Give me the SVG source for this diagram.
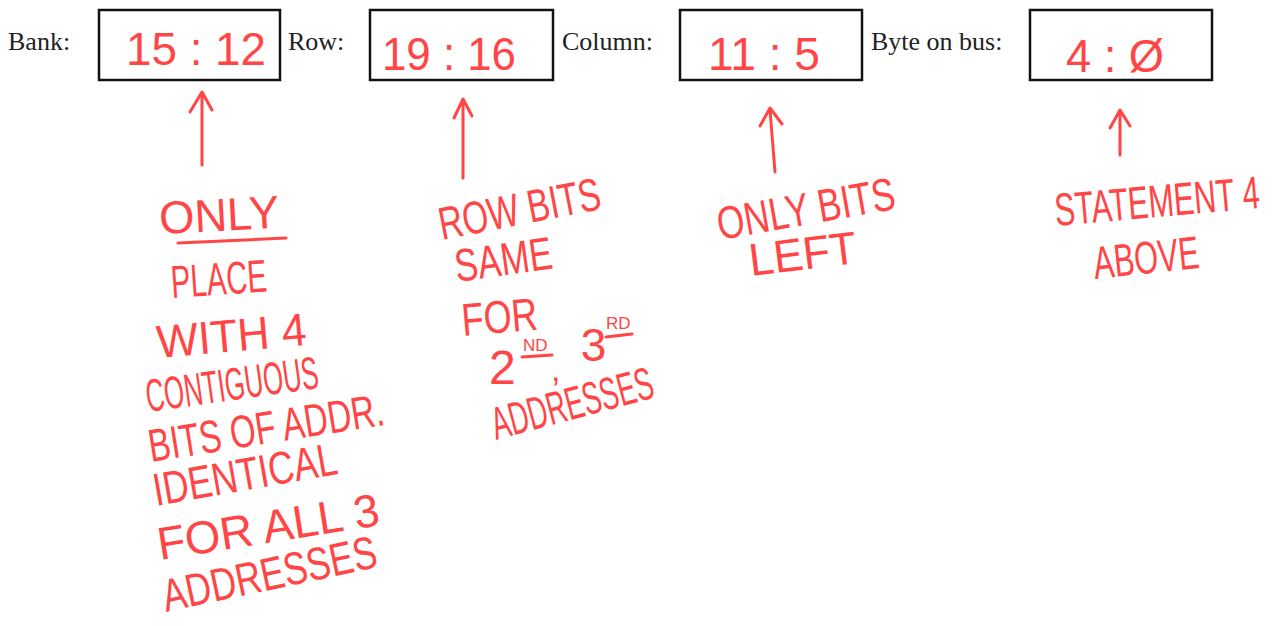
<svg xmlns="http://www.w3.org/2000/svg" width="1274" height="626" viewBox="0 0 1274 626">
<defs>
<style>
.lbl{font-family:"Liberation Serif","Times New Roman",serif;font-size:26px;fill:#222}
.box{fill:#fff;stroke:#111;stroke-width:2.5}
.hw{font-family:"Liberation Sans",Arial,sans-serif;fill:#ff4545;font-size:46px}
.pen{fill:none;stroke:#ff4545;stroke-width:3;stroke-linecap:round;stroke-linejoin:round}
</style>
</defs>
<rect width="1274" height="626" fill="#fff"/>
<g id="bank">
<text class="lbl" x="8" y="50">Bank:</text>
<rect class="box" x="99" y="10" width="181" height="70"/>
<text class="hw" x="126" y="65" font-size="52" textLength="140" lengthAdjust="spacingAndGlyphs">15 : 12</text>
</g>
<g id="row">
<text class="lbl" x="288" y="50">Row:</text>
<rect class="box" x="370" y="10" width="183" height="70"/>
<text class="hw" x="382" y="70" font-size="56" textLength="134" lengthAdjust="spacingAndGlyphs">19 : 16</text>
</g>
<g id="column">
<text class="lbl" x="562" y="50">Column:</text>
<rect class="box" x="680" y="10" width="182" height="70"/>
<text class="hw" x="708" y="70" font-size="54" textLength="112" lengthAdjust="spacingAndGlyphs">11 : 5</text>
</g>
<g id="byte">
<text class="lbl" x="871" y="50">Byte on bus:</text>
<rect class="box" x="1030" y="10" width="182" height="70"/>
<text class="hw" x="1066" y="72" font-size="56" textLength="98" lengthAdjust="spacingAndGlyphs">4 : Ø</text>
</g>
<g id="connectors">
<path class="pen" d="M202 165 L202 93 M190 112 L202 92 L212 110"/>
<path class="pen" d="M463 178 L463 100 M454 118 L463 99 L472 116"/>
<path class="pen" d="M775 172 L770 110 M760 126 L770 108 L782 124"/>
<path class="pen" d="M1120 155 L1120 112 M1110 128 L1120 110 L1130 126"/>
</g>
<g id="note-bank">
<text class="hw" x="160" y="234" textLength="120" lengthAdjust="spacingAndGlyphs" transform="rotate(-3 160 234)">ONLY</text>
<path class="pen" d="M178 243 L286 238"/>
<text class="hw" x="172" y="298" textLength="96" lengthAdjust="spacingAndGlyphs" transform="rotate(-4 172 298)">PLACE</text>
<text class="hw" x="158" y="358" font-size="48" textLength="150" lengthAdjust="spacingAndGlyphs" transform="rotate(-5 158 358)">WITH 4</text>
<text class="hw" x="148" y="412" font-size="40" textLength="174" lengthAdjust="spacingAndGlyphs" transform="rotate(-8 148 412)">CONTIGUOUS</text>
<text class="hw" x="151" y="462" font-size="44" textLength="238" lengthAdjust="spacingAndGlyphs" transform="rotate(-9 151 462)">BITS OF ADDR.</text>
<text class="hw" x="156" y="506" font-size="44" textLength="186" lengthAdjust="spacingAndGlyphs" transform="rotate(-10 156 506)">IDENTICAL</text>
<text class="hw" x="160" y="560" font-size="48" textLength="224" lengthAdjust="spacingAndGlyphs" transform="rotate(-9 160 560)">FOR ALL 3</text>
<text class="hw" x="166" y="612" font-size="44" textLength="218" lengthAdjust="spacingAndGlyphs" transform="rotate(-12 166 612)">ADDRESSES</text>
</g>
<g id="note-row">
<text class="hw" x="442" y="240" font-size="44" textLength="164" lengthAdjust="spacingAndGlyphs" transform="rotate(-11 442 240)">ROW BITS</text>
<text class="hw" x="457" y="282" font-size="44" textLength="98" lengthAdjust="spacingAndGlyphs" transform="rotate(-8 457 282)">SAME</text>
<text class="hw" x="463" y="336" font-size="42" textLength="76" lengthAdjust="spacingAndGlyphs" transform="rotate(-5 463 336)">FOR</text>
<text class="hw"><tspan x="489" y="384" font-size="48">2</tspan><tspan x="523" y="351" font-size="17">ND</tspan><tspan x="551" y="381" font-size="34">,</tspan><tspan x="568" y="361" font-size="46"> 3</tspan><tspan x="606" y="329" font-size="17">RD</tspan></text>
<path class="pen" d="M522 357 L552 355 M606 337 L632 334"/>
<text class="hw" x="496" y="440" font-size="44" textLength="166" lengthAdjust="spacingAndGlyphs" transform="rotate(-15 496 440)">ADDRESSES</text>
</g>
<g id="note-column">
<text class="hw" x="720" y="240" font-size="42" textLength="180" lengthAdjust="spacingAndGlyphs" transform="rotate(-10 720 240)">ONLY BITS</text>
<text class="hw" x="751" y="276" font-size="46" textLength="108" lengthAdjust="spacingAndGlyphs" transform="rotate(-7 751 276)">LEFT</text>
</g>
<g id="note-byte">
<text class="hw" x="0" y="0" font-size="40" transform="translate(1056 226) rotate(-5) scale(0.665 1)">STATEMENT 4</text>
<text class="hw" x="1095" y="279" font-size="42" textLength="106" lengthAdjust="spacingAndGlyphs" transform="rotate(-6 1095 279)">ABOVE</text>
</g>
</svg>
